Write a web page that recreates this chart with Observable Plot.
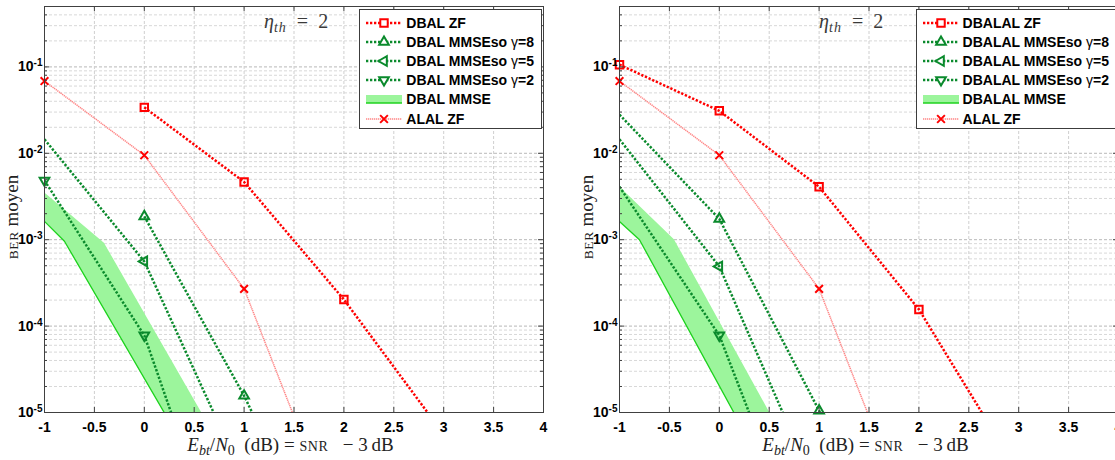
<!DOCTYPE html>
<html><head><meta charset="utf-8">
<script src="https://cdn.jsdelivr.net/npm/d3@7"></script>
<script src="https://cdn.jsdelivr.net/npm/@observablehq/plot@0.6"></script>
<style>
html,body{margin:0;padding:0;background:#fff;}
#wrap{position:relative;width:1115px;height:460px;overflow:hidden;background:#fff}
.panel{position:absolute;top:0;width:557px;height:460px}
.panel svg{display:block}
.legend{position:absolute;top:9px;right:15px;background:#fff;border:1px solid #3c3c3c;padding:3px 7px 0 0;font:bold 14px "Liberation Sans",Arial,sans-serif;color:#000}
.row{height:19.2px;display:flex;align-items:center;white-space:nowrap}
.row svg{width:42px;height:16px;margin-right:4px;flex:none}
.g{font-weight:normal}
</style></head><body><div id="wrap"></div>
<script>
// ---------- axes / ticks ----------
const X_TICKS = [-1,-0.5,0,0.5,1,1.5,2,2.5,3,3.5,4];
const Y_DECADES = [1e-5,1e-4,1e-3,1e-2,1e-1];
const Y_DOMAIN = [1e-5,0.5];

// ---------- ALAL ZF (both panels) ----------
const alalX = [-1,0,1,1.5];
const alalY = [0.0686,9.5e-3,2.7e-4,9.0e-6];
const alalMk = [-1,0,1];

// ---------- left panel: DBAL ----------
const dbalNames = ["DBAL ZF","DBAL MMSEso γ=8","DBAL MMSEso γ=5","DBAL MMSEso γ=2","DBAL MMSE","ALAL ZF"];
const dbalZfX = [0,1,2,3],      dbalZfY = [0.034,4.66e-3,2.03e-4,5.6e-6],  dbalZfMk = [0,1,2];
const dbalG8X = [0,1,2],        dbalG8Y = [1.86e-3,1.56e-5,6.3e-8],        dbalG8Mk = [0,1];
const dbalG5X = [-1,0,1],       dbalG5Y = [0.0145,5.6e-4,1.7e-6],          dbalG5Mk = [0];
const dbalG2X = [-1,0,0.5],     dbalG2Y = [4.84e-3,7.8e-5,1.7e-6],         dbalG2Mk = [-1,0];
const dbalLoX = [-1,-0.8,0.4],  dbalLoY = [1.63e-3,9.6e-4,4.0e-6];
const dbalHiX = [-1,-0.4,0.8],  dbalHiY = [3.5e-3,9.1e-4,3.5e-6];
const dbalEta = {x:1.2, y:0.33};

// ---------- right panel: DBALAL ----------
const dbalalNames = ["DBALAL ZF","DBALAL MMSEso γ=8","DBALAL MMSEso γ=5","DBALAL MMSEso γ=2","DBALAL MMSE","ALAL ZF"];
const dbalalZfX = [-1,0,1,2,3],   dbalalZfY = [0.106,0.031,4.1e-3,1.56e-4,2.0e-6], dbalalZfMk = [-1,0,1,2];
const dbalalG8X = [-1,0,1,2],     dbalalG8Y = [0.028,1.74e-3,1.05e-5,6e-8],        dbalalG8Mk = [0,1];
const dbalalG5X = [-1,0,1],       dbalalG5Y = [0.0145,4.9e-4,1.07e-6],             dbalalG5Mk = [0];
const dbalalG2X = [-1,0,0.5],     dbalalG2Y = [4.1e-3,7.8e-5,2.5e-6],              dbalalG2Mk = [0];
const dbalalLoX = [-1,-0.8,0.4],  dbalalLoY = [1.62e-3,1.0e-3,2.9e-6];
const dbalalHiX = [-1,-0.45,0.8], dbalalHiY = [4.1e-3,1.0e-3,2.4e-6];
const dbalalEta = {x:1.0, y:0.33};

// ---------- styles ----------
const RED = "#ff0000", GREEN = "#0a8a2c", PINK = "#ff8585", BANDF = "#9cf59c", BANDL = "#1ed21e";
const DOT = "2.3,1.7";

function buildPanel(names, zf, g8, g5, g2, lo, hi, eta, leftPx) {
  const W=557,H=460,ML=44,MR=14,MT=6,MB=48, PW=W-ML-MR, PH=H-MT-MB;
  const rows=(xs,ys)=>xs.map((x,i)=>({x,y:ys[i]}));
  const pick=(xs,ys,mk)=>rows(xs,ys).filter(d=>mk.includes(d.x));
  const yMinor = Y_DECADES.flatMap(d=>[2,3,4,5,6,7,8,9].map(k=>k*d)).filter(v=>v<=Y_DOMAIN[1]*1.0001);
  const band = lo[0].map((x,i)=>({xl:x,yl:lo[1][i],xh:hi[0][i],yh:hi[1][i]}));
  const series = [
    {name:names[0], d:zf, color:RED,   symbol:"square",   rotate:0,   r:4.2},
    {name:names[1], d:g8, color:GREEN, symbol:"triangle", rotate:0,   r:3.6},
    {name:names[2], d:g5, color:GREEN, symbol:"triangle", rotate:-90, r:3.6},
    {name:names[3], d:g2, color:GREEN, symbol:"triangle", rotate:180, r:3.6},
  ];
  const AX="#404040";
  const marks = [
    Plot.gridY(yMinor,{stroke:"#d8d8d8",strokeOpacity:1,strokeDasharray:"3,2"}),
    Plot.gridY(Y_DECADES,{stroke:"#b8b8b8",strokeOpacity:1,strokeDasharray:"3,2"}),
    Plot.gridX(X_TICKS,{stroke:"#cfcfcf",strokeOpacity:1,strokeDasharray:"3,2"}),
    Plot.area(band,{x1:"xl",y1:"yl",x2:"xh",y2:"yh",fill:BANDF,clip:true}),
    Plot.line(rows(lo[0],lo[1]),{x:"x",y:"y",stroke:BANDL,strokeWidth:1.3,clip:true}),
    Plot.line(rows(alalX,alalY),{x:"x",y:"y",stroke:PINK,strokeWidth:1.5,strokeDasharray:"1.3,0.7",strokeLinecap:"butt",clip:true}),
    ...series.map(s=>Plot.line(rows(s.d[0],s.d[1]),{x:"x",y:"y",stroke:s.color,strokeWidth:2.5,strokeDasharray:DOT,strokeLinecap:"butt",clip:true})),
    ...series.map(s=>Plot.dot(pick(s.d[0],s.d[1],s.d[2]),{x:"x",y:"y",symbol:s.symbol,rotate:s.rotate,r:s.r,stroke:s.color,strokeWidth:2,fill:"none"})),
    Plot.dot(pick(alalX,alalY,alalMk),{x:"x",y:"y",symbol:"times",r:3.6,stroke:RED,strokeWidth:2}),
    Plot.text([eta],{x:"x",y:"y",text:()=>"eta",textAnchor:"start"}),
    Plot.frame({stroke:AX}),
    Plot.ruleX(X_TICKS,{stroke:AX,insetTop:PH-5}),
    Plot.ruleX(X_TICKS,{stroke:AX,insetBottom:PH-5}),
    Plot.ruleY(Y_DECADES,{stroke:AX,insetRight:PW-5}),
    Plot.ruleY(Y_DECADES,{stroke:AX,insetLeft:PW-5}),
    Plot.ruleY(yMinor,{stroke:AX,insetRight:PW-3}),
    Plot.ruleY(yMinor,{stroke:AX,insetLeft:PW-3}),
    Plot.axisX(X_TICKS,{tickSize:0,tickPadding:10,tickFormat:d=>String(d),label:null,fontSize:14,fontWeight:"bold"}),
    Plot.axisY(Y_DECADES,{tickSize:0,tickPadding:2,tickFormat:d=>"10^"+Math.round(Math.log10(d)),label:null,fontSize:14,fontWeight:"bold"})
  ];
  const svg = Plot.plot({width:W,height:H,marginLeft:ML,marginRight:MR,marginTop:MT,marginBottom:MB,
    x:{domain:[-1,4],label:null}, y:{type:"log",domain:Y_DOMAIN,label:null},
    style:{fontFamily:'"Liberation Sans",Arial,sans-serif',fontSize:"14px",background:"transparent",color:"#000"},
    marks});
  const S = d3.select(svg);
  // superscript exponents on y tick labels
  S.selectAll('g[aria-label="y-axis tick label"] text').each(function(){
    const e=this.textContent.split("^")[1]; const t=d3.select(this); t.text(null);
    t.attr("font-weight","bold");
    t.append("tspan").text("10");
    t.append("tspan").attr("dy","-0.5em").attr("font-size","10px").text(e);
  });
  S.selectAll('g[aria-label="x-axis tick label"] text').attr("font-weight","bold");
  // eta annotation
  S.selectAll("text").filter(function(){return this.textContent==="eta";}).each(function(){
    const t=d3.select(this); t.text(null);
    t.attr("font-family",'"Liberation Serif","DejaVu Serif",serif').attr("font-size","20px").attr("fill","#3a3a3a").attr("font-weight","normal");
    t.append("tspan").attr("font-style","italic").text("η");
    t.append("tspan").attr("font-style","italic").attr("font-size","14px").attr("dy","4").attr("letter-spacing","1").text("th");
    t.append("tspan").attr("dy","-4").text("\u2002=\u20022");
  });
  // x label
  const xl = S.append("text").attr("x",ML+PW/2-3).attr("y",451).attr("text-anchor","middle")
    .attr("font-family",'"Liberation Serif","DejaVu Serif",serif').attr("font-size","19px").attr("fill","#222");
  xl.append("tspan").attr("font-style","italic").text("E");
  xl.append("tspan").attr("font-style","italic").attr("font-size","14px").attr("dy","4").text("bt");
  xl.append("tspan").attr("dy","-4").text("/");
  xl.append("tspan").attr("font-style","italic").text("N");
  xl.append("tspan").attr("font-size","14px").attr("dy","4").text("0");
  xl.append("tspan").attr("dy","-4").text("\u2002(dB) = ");
  xl.append("tspan").attr("font-size","14px").attr("letter-spacing","0.6").text("SNR");
  xl.append("tspan").text("\u2002 \u2212 3\u2009dB");
  // y label
  const yl = S.append("text").attr("transform",`translate(18,${MT+PH/2+8}) rotate(-90)`).attr("text-anchor","middle")
    .attr("font-family",'"Liberation Serif","DejaVu Serif",serif').attr("font-size","19px").attr("fill","#222");
  yl.append("tspan").attr("font-size","13.5px").attr("letter-spacing","0.6").text("BER");
  yl.append("tspan").text(" moyen");

  const div = d3.select("#wrap").append("div").attr("class","panel").style("left",leftPx+"px");
  div.node().appendChild(svg);
  // legend
  const lg = div.append("div").attr("class","legend");
  const items = [
    ...series.map(s=>({name:s.name,type:"line",color:s.color,symbol:s.symbol,rotate:s.rotate,r:s.r,w:2.5,dash:DOT})),
    {name:names[4],type:"band"},
    {name:names[5],type:"line",color:PINK,mcolor:RED,symbol:"times",rotate:0,r:3.6,w:1.5,dash:"1.3,0.7"}
  ];
  const symMap={square:d3.symbolSquare,triangle:d3.symbolTriangle,times:d3.symbolTimes};
  items.forEach(it=>{
    const row = lg.append("div").attr("class","row");
    const sv = row.append("svg").attr("viewBox","0 0 42 16");
    if(it.type==="band"){
      sv.append("rect").attr("x",6).attr("y",4).attr("width",36).attr("height",8).attr("fill",BANDF);
      sv.append("line").attr("x1",6).attr("x2",42).attr("y1",12).attr("y2",12).attr("stroke",BANDL).attr("stroke-width",1.3);
    } else {
      sv.append("line").attr("x1",6).attr("x2",42).attr("y1",8).attr("y2",8).attr("stroke",it.color).attr("stroke-width",it.w).attr("stroke-dasharray",it.dash);
      sv.append("path").attr("d",d3.symbol(symMap[it.symbol],Math.PI*it.r*it.r)())
        .attr("transform",`translate(24,8) rotate(${it.rotate})`).attr("fill","#fff")
        .attr("stroke",it.mcolor||it.color).attr("stroke-width",2);
    }
    const m = it.name.match(/^(.*?)(γ)(=\d)$/);
    const sp = row.append("span");
    if(m){ sp.append("span").text(m[1]); sp.append("span").attr("class","g").text(m[2]); sp.append("span").text(m[3]); }
    else sp.text(it.name);
  });
}

buildPanel(dbalNames,[dbalZfX,dbalZfY,dbalZfMk],[dbalG8X,dbalG8Y,dbalG8Mk],[dbalG5X,dbalG5Y,dbalG5Mk],[dbalG2X,dbalG2Y,dbalG2Mk],
  [dbalLoX,dbalLoY],[dbalHiX,dbalHiY],dbalEta,0);
buildPanel(dbalalNames,[dbalalZfX,dbalalZfY,dbalalZfMk],[dbalalG8X,dbalalG8Y,dbalalG8Mk],[dbalalG5X,dbalalG5Y,dbalalG5Mk],[dbalalG2X,dbalalG2Y,dbalalG2Mk],
  [dbalalLoX,dbalalLoY],[dbalalHiX,dbalalHiY],dbalalEta,575);
</script></body></html>
